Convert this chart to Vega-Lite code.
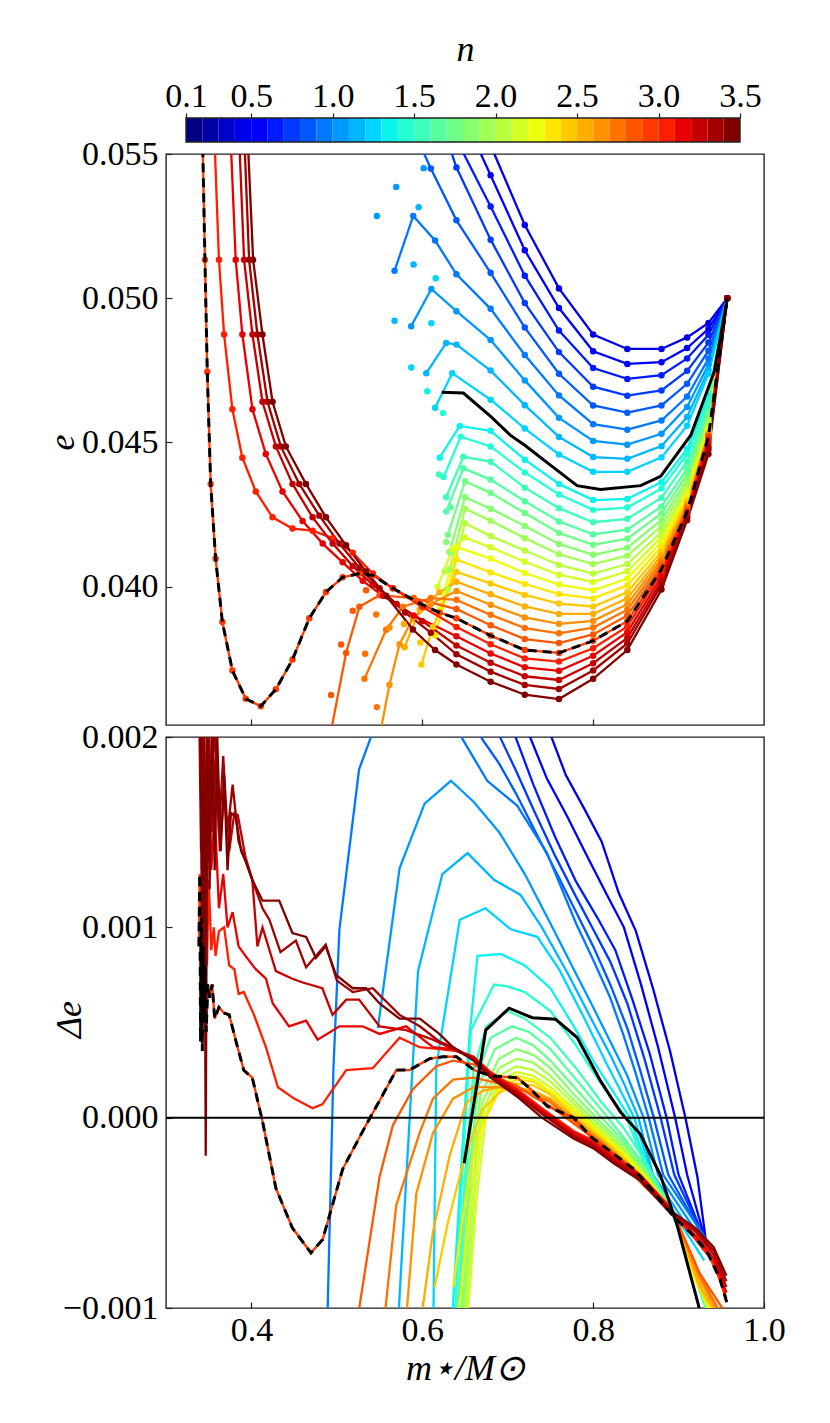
{
  "$schema": "https://vega.github.io/schema/vega-lite/v6.json",
  "autosize": {"type": "pad"},
  "padding": {"left": 43, "top": 31, "right": 20, "bottom": 5},
  "background": "white",
  "spacing": 12,
  "bounds": "flush",
  "config": {
    "font": "Liberation Serif",
    "view": {"stroke": "#222222", "strokeWidth": 1.4},
    "axis": {
      "labelFont": "Liberation Serif",
      "labelFontSize": 34,
      "labelColor": "black",
      "titleFont": "Liberation Serif",
      "titleFontSize": 36,
      "titleFontWeight": "normal",
      "titleFontStyle": "italic",
      "titleColor": "black",
      "grid": false,
      "domain": false,
      "tickColor": "#222222",
      "tickWidth": 1.2
    }
  },
  "datasets": {
    "bins": [
      {"lo": 0.1, "n": 0.2}, {"lo": 0.2, "n": 0.3}, {"lo": 0.3, "n": 0.4}, {"lo": 0.4, "n": 0.5},
      {"lo": 0.5, "n": 0.6}, {"lo": 0.6, "n": 0.7}, {"lo": 0.7, "n": 0.8}, {"lo": 0.8, "n": 0.9},
      {"lo": 0.9, "n": 1.0}, {"lo": 1.0, "n": 1.1}, {"lo": 1.1, "n": 1.2}, {"lo": 1.2, "n": 1.3},
      {"lo": 1.3, "n": 1.4}, {"lo": 1.4, "n": 1.5}, {"lo": 1.5, "n": 1.6}, {"lo": 1.6, "n": 1.7},
      {"lo": 1.7, "n": 1.8}, {"lo": 1.8, "n": 1.9}, {"lo": 1.9, "n": 2.0}, {"lo": 2.0, "n": 2.1},
      {"lo": 2.1, "n": 2.2}, {"lo": 2.2, "n": 2.3}, {"lo": 2.3, "n": 2.4}, {"lo": 2.4, "n": 2.5},
      {"lo": 2.5, "n": 2.6}, {"lo": 2.6, "n": 2.7}, {"lo": 2.7, "n": 2.8}, {"lo": 2.8, "n": 2.9},
      {"lo": 2.9, "n": 3.0}, {"lo": 3.0, "n": 3.1}, {"lo": 3.1, "n": 3.2}, {"lo": 3.2, "n": 3.3},
      {"lo": 3.3, "n": 3.4}, {"lo": 3.4, "n": 3.5}
    ],
    "frame": [{"lo": 0.1, "hi": 3.5}],
    "top": [
      {"n":0.5,"m":0.68,"e":0.0553},{"n":0.5,"m":0.72,"e":0.05254},{"n":0.5,"m":0.76,"e":0.05034},{"n":0.5,"m":0.8,"e":0.04874},{"n":0.5,"m":0.84,"e":0.04824},{"n":0.5,"m":0.88,"e":0.04824},{"n":0.5,"m":0.91,"e":0.04864},{"n":0.5,"m":0.935,"e":0.04914},{"n":0.5,"m":0.957,"e":0.05},
      {"n":0.6,"m":0.65,"e":0.0562},{"n":0.6,"m":0.68,"e":0.05426},{"n":0.6,"m":0.72,"e":0.05166},{"n":0.6,"m":0.76,"e":0.04966},{"n":0.6,"m":0.8,"e":0.04816},{"n":0.6,"m":0.84,"e":0.04772},{"n":0.6,"m":0.88,"e":0.04778},{"n":0.6,"m":0.91,"e":0.04827},{"n":0.6,"m":0.935,"e":0.04894},{"n":0.6,"m":0.957,"e":0.05},
      {"n":0.7,"m":0.64,"e":0.0555},{"n":0.7,"m":0.68,"e":0.05318},{"n":0.7,"m":0.72,"e":0.05078},{"n":0.7,"m":0.76,"e":0.04888},{"n":0.7,"m":0.8,"e":0.04758},{"n":0.7,"m":0.84,"e":0.0472},{"n":0.7,"m":0.88,"e":0.04733},{"n":0.7,"m":0.91,"e":0.04791},{"n":0.7,"m":0.935,"e":0.04873},{"n":0.7,"m":0.957,"e":0.05},
      {"n":0.8,"m":0.62,"e":0.0563},{"n":0.8,"m":0.64,"e":0.05453},{"n":0.8,"m":0.68,"e":0.05203},{"n":0.8,"m":0.72,"e":0.04983},{"n":0.8,"m":0.76,"e":0.04813},{"n":0.8,"m":0.8,"e":0.04693},{"n":0.8,"m":0.84,"e":0.04662},{"n":0.8,"m":0.88,"e":0.0468},{"n":0.8,"m":0.91,"e":0.04748},{"n":0.8,"m":0.935,"e":0.04846},{"n":0.8,"m":0.957,"e":0.05},
      {"n":0.9,"m":0.59,"e":0.0558},{"n":0.9,"m":0.61,"e":0.0545},{"n":0.9,"m":0.64,"e":0.0527},{"n":0.9,"m":0.68,"e":0.05088},{"n":0.9,"m":0.72,"e":0.04898},{"n":0.9,"m":0.76,"e":0.04738},{"n":0.9,"m":0.8,"e":0.04628},{"n":0.9,"m":0.84,"e":0.04603},{"n":0.9,"m":0.88,"e":0.04628},{"n":0.9,"m":0.91,"e":0.04703},{"n":0.9,"m":0.935,"e":0.04818},{"n":0.9,"m":0.957,"e":0.05},
      {"n":1.0,"m":0.5675,"e":0.05095},{"n":1.0,"m":0.5894,"e":0.05285},{"n":1.0,"m":0.615,"e":0.052},{"n":1.0,"m":0.64,"e":0.05083},{"n":1.0,"m":0.68,"e":0.04963},{"n":1.0,"m":0.72,"e":0.04803},{"n":1.0,"m":0.76,"e":0.04663},{"n":1.0,"m":0.8,"e":0.04563},{"n":1.0,"m":0.84,"e":0.04544},{"n":1.0,"m":0.88,"e":0.04576},{"n":1.0,"m":0.91,"e":0.04659},{"n":1.0,"m":0.935,"e":0.04791},{"n":1.0,"m":0.957,"e":0.05},
      {"n":1.1,"m":0.587,"e":0.04903},{"n":1.1,"m":0.6106,"e":0.05032},{"n":1.1,"m":0.64,"e":0.04955},{"n":1.1,"m":0.68,"e":0.04855},{"n":1.1,"m":0.72,"e":0.04715},{"n":1.1,"m":0.76,"e":0.04585},{"n":1.1,"m":0.8,"e":0.04505},{"n":1.1,"m":0.84,"e":0.04492},{"n":1.1,"m":0.88,"e":0.0453},{"n":1.1,"m":0.91,"e":0.04623},{"n":1.1,"m":0.935,"e":0.0477},{"n":1.1,"m":0.957,"e":0.05},
      {"n":1.2,"m":0.6047,"e":0.0474},{"n":1.2,"m":0.628,"e":0.04845},{"n":1.2,"m":0.64,"e":0.04839},{"n":1.2,"m":0.68,"e":0.04749},{"n":1.2,"m":0.72,"e":0.04629},{"n":1.2,"m":0.76,"e":0.04519},{"n":1.2,"m":0.8,"e":0.04449},{"n":1.2,"m":0.84,"e":0.04443},{"n":1.2,"m":0.88,"e":0.04487},{"n":1.2,"m":0.91,"e":0.04588},{"n":1.2,"m":0.935,"e":0.04752},{"n":1.2,"m":0.957,"e":0.05},
      {"n":1.3,"m":0.615,"e":0.0462},{"n":1.3,"m":0.635,"e":0.0474},{"n":1.3,"m":0.68,"e":0.04648},{"n":1.3,"m":0.72,"e":0.04548},{"n":1.3,"m":0.76,"e":0.04458},{"n":1.3,"m":0.8,"e":0.04398},{"n":1.3,"m":0.84,"e":0.04398},{"n":1.3,"m":0.88,"e":0.04448},{"n":1.3,"m":0.91,"e":0.04558},{"n":1.3,"m":0.935,"e":0.04738},{"n":1.3,"m":0.957,"e":0.05},
      {"n":1.4,"m":0.6204,"e":0.04447},{"n":1.4,"m":0.6438,"e":0.04557},{"n":1.4,"m":0.68,"e":0.0454},{"n":1.4,"m":0.72,"e":0.0444},{"n":1.4,"m":0.76,"e":0.04356},{"n":1.4,"m":0.8,"e":0.043},{"n":1.4,"m":0.84,"e":0.04304},{"n":1.4,"m":0.88,"e":0.04362},{"n":1.4,"m":0.91,"e":0.04477},{"n":1.4,"m":0.935,"e":0.04662},{"n":1.4,"m":0.957,"e":0.05},
      {"n":1.5,"m":0.625,"e":0.0438},{"n":1.5,"m":0.645,"e":0.0452},{"n":1.5,"m":0.68,"e":0.04486},{"n":1.5,"m":0.72,"e":0.04396},{"n":1.5,"m":0.76,"e":0.04319},{"n":1.5,"m":0.8,"e":0.04266},{"n":1.5,"m":0.84,"e":0.04274},{"n":1.5,"m":0.88,"e":0.0434},{"n":1.5,"m":0.91,"e":0.0446},{"n":1.5,"m":0.935,"e":0.0465},{"n":1.5,"m":0.957,"e":0.05},
      {"n":1.6,"m":0.628,"e":0.0431},{"n":1.6,"m":0.648,"e":0.0445},{"n":1.6,"m":0.68,"e":0.04433},{"n":1.6,"m":0.72,"e":0.04343},{"n":1.6,"m":0.76,"e":0.04272},{"n":1.6,"m":0.8,"e":0.04223},{"n":1.6,"m":0.84,"e":0.04235},{"n":1.6,"m":0.88,"e":0.04308},{"n":1.6,"m":0.91,"e":0.04434},{"n":1.6,"m":0.935,"e":0.04628},{"n":1.6,"m":0.957,"e":0.05},
      {"n":1.7,"m":0.628,"e":0.0426},{"n":1.7,"m":0.648,"e":0.0441},{"n":1.7,"m":0.68,"e":0.04371},{"n":1.7,"m":0.72,"e":0.04296},{"n":1.7,"m":0.76,"e":0.04226},{"n":1.7,"m":0.8,"e":0.04181},{"n":1.7,"m":0.84,"e":0.04197},{"n":1.7,"m":0.88,"e":0.04278},{"n":1.7,"m":0.91,"e":0.04409},{"n":1.7,"m":0.935,"e":0.04608},{"n":1.7,"m":0.957,"e":0.05},
      {"n":1.8,"m":0.63,"e":0.0418},{"n":1.8,"m":0.65,"e":0.04365},{"n":1.8,"m":0.68,"e":0.04325},{"n":1.8,"m":0.72,"e":0.04255},{"n":1.8,"m":0.76,"e":0.04186},{"n":1.8,"m":0.8,"e":0.04145},{"n":1.8,"m":0.84,"e":0.04166},{"n":1.8,"m":0.88,"e":0.04254},{"n":1.8,"m":0.91,"e":0.0439},{"n":1.8,"m":0.935,"e":0.04594},{"n":1.8,"m":0.957,"e":0.05},
      {"n":1.9,"m":0.632,"e":0.0412},{"n":1.9,"m":0.65,"e":0.0431},{"n":1.9,"m":0.68,"e":0.0427},{"n":1.9,"m":0.72,"e":0.0421},{"n":1.9,"m":0.76,"e":0.04148},{"n":1.9,"m":0.8,"e":0.0411},{"n":1.9,"m":0.84,"e":0.04135},{"n":1.9,"m":0.88,"e":0.04231},{"n":1.9,"m":0.91,"e":0.04372},{"n":1.9,"m":0.935,"e":0.04581},{"n":1.9,"m":0.957,"e":0.05},
      {"n":2.0,"m":0.632,"e":0.0406},{"n":2.0,"m":0.65,"e":0.0427},{"n":2.0,"m":0.68,"e":0.04228},{"n":2.0,"m":0.72,"e":0.04168},{"n":2.0,"m":0.76,"e":0.04112},{"n":2.0,"m":0.8,"e":0.04078},{"n":2.0,"m":0.84,"e":0.04107},{"n":2.0,"m":0.88,"e":0.0421},{"n":2.0,"m":0.91,"e":0.04357},{"n":2.0,"m":0.935,"e":0.0457},{"n":2.0,"m":0.957,"e":0.05},
      {"n":2.1,"m":0.63,"e":0.0399},{"n":2.1,"m":0.65,"e":0.0422},{"n":2.1,"m":0.68,"e":0.04175},{"n":2.1,"m":0.72,"e":0.04125},{"n":2.1,"m":0.76,"e":0.04075},{"n":2.1,"m":0.8,"e":0.04045},{"n":2.1,"m":0.84,"e":0.04078},{"n":2.1,"m":0.88,"e":0.04189},{"n":2.1,"m":0.91,"e":0.04341},{"n":2.1,"m":0.935,"e":0.04559},{"n":2.1,"m":0.957,"e":0.05},
      {"n":2.2,"m":0.618,"e":0.04},{"n":2.2,"m":0.635,"e":0.0413},{"n":2.2,"m":0.65,"e":0.0417},{"n":2.2,"m":0.68,"e":0.04136},{"n":2.2,"m":0.72,"e":0.04086},{"n":2.2,"m":0.76,"e":0.04041},{"n":2.2,"m":0.8,"e":0.04016},{"n":2.2,"m":0.84,"e":0.04053},{"n":2.2,"m":0.88,"e":0.04172},{"n":2.2,"m":0.91,"e":0.0433},{"n":2.2,"m":0.935,"e":0.04552},{"n":2.2,"m":0.957,"e":0.05},
      {"n":2.3,"m":0.62,"e":0.0392},{"n":2.3,"m":0.64,"e":0.04137},{"n":2.3,"m":0.68,"e":0.04097},{"n":2.3,"m":0.72,"e":0.04047},{"n":2.3,"m":0.76,"e":0.04007},{"n":2.3,"m":0.8,"e":0.03987},{"n":2.3,"m":0.84,"e":0.04028},{"n":2.3,"m":0.88,"e":0.04155},{"n":2.3,"m":0.91,"e":0.04318},{"n":2.3,"m":0.935,"e":0.04545},{"n":2.3,"m":0.957,"e":0.05},
      {"n":2.4,"m":0.615,"e":0.0383},{"n":2.4,"m":0.64,"e":0.04094},{"n":2.4,"m":0.68,"e":0.04049},{"n":2.4,"m":0.72,"e":0.04009},{"n":2.4,"m":0.76,"e":0.03974},{"n":2.4,"m":0.8,"e":0.03959},{"n":2.4,"m":0.84,"e":0.04004},{"n":2.4,"m":0.88,"e":0.04138},{"n":2.4,"m":0.91,"e":0.04307},{"n":2.4,"m":0.935,"e":0.04538},{"n":2.4,"m":0.957,"e":0.05},
      {"n":2.5,"m":0.599,"e":0.0373},{"n":2.5,"m":0.6125,"e":0.0386},{"n":2.5,"m":0.64,"e":0.04051},{"n":2.5,"m":0.68,"e":0.04011},{"n":2.5,"m":0.72,"e":0.03971},{"n":2.5,"m":0.76,"e":0.03941},{"n":2.5,"m":0.8,"e":0.03931},{"n":2.5,"m":0.84,"e":0.0398},{"n":2.5,"m":0.88,"e":0.04122},{"n":2.5,"m":0.91,"e":0.04296},{"n":2.5,"m":0.935,"e":0.04532},{"n":2.5,"m":0.957,"e":0.05},
      {"n":2.6,"m":0.5793,"e":0.0379},{"n":2.6,"m":0.5969,"e":0.0392},{"n":2.6,"m":0.62,"e":0.0398},{"n":2.6,"m":0.64,"e":0.04017},{"n":2.6,"m":0.68,"e":0.03973},{"n":2.6,"m":0.72,"e":0.03931},{"n":2.6,"m":0.76,"e":0.03905},{"n":2.6,"m":0.8,"e":0.03905},{"n":2.6,"m":0.84,"e":0.03959},{"n":2.6,"m":0.88,"e":0.04108},{"n":2.6,"m":0.91,"e":0.04287},{"n":2.6,"m":0.935,"e":0.04528},{"n":2.6,"m":0.957,"e":0.05},
      {"n":2.7,"m":0.55,"e":0.0348},{"n":2.7,"m":0.5616,"e":0.0366},{"n":2.7,"m":0.5734,"e":0.038},{"n":2.7,"m":0.589,"e":0.0389},{"n":2.7,"m":0.61,"e":0.0394},{"n":2.7,"m":0.64,"e":0.03985},{"n":2.7,"m":0.68,"e":0.03937},{"n":2.7,"m":0.72,"e":0.03893},{"n":2.7,"m":0.76,"e":0.03871},{"n":2.7,"m":0.8,"e":0.03881},{"n":2.7,"m":0.84,"e":0.03939},{"n":2.7,"m":0.88,"e":0.04096},{"n":2.7,"m":0.91,"e":0.0428},{"n":2.7,"m":0.935,"e":0.04526},{"n":2.7,"m":0.957,"e":0.05},
      {"n":2.8,"m":0.5323,"e":0.0368},{"n":2.8,"m":0.5577,"e":0.0385},{"n":2.8,"m":0.5773,"e":0.0393},{"n":2.8,"m":0.61,"e":0.0396},{"n":2.8,"m":0.64,"e":0.03954},{"n":2.8,"m":0.68,"e":0.03902},{"n":2.8,"m":0.72,"e":0.03856},{"n":2.8,"m":0.76,"e":0.03838},{"n":2.8,"m":0.8,"e":0.03858},{"n":2.8,"m":0.84,"e":0.0392},{"n":2.8,"m":0.88,"e":0.04084},{"n":2.8,"m":0.91,"e":0.04274},{"n":2.8,"m":0.935,"e":0.04524},{"n":2.8,"m":0.957,"e":0.05},
      {"n":2.9,"m":0.49,"e":0.0345},{"n":2.9,"m":0.5108,"e":0.0377},{"n":2.9,"m":0.5264,"e":0.0393},{"n":2.9,"m":0.55,"e":0.0397},{"n":2.9,"m":0.59,"e":0.0396},{"n":2.9,"m":0.64,"e":0.03922},{"n":2.9,"m":0.68,"e":0.03866},{"n":2.9,"m":0.72,"e":0.03818},{"n":2.9,"m":0.76,"e":0.03804},{"n":2.9,"m":0.8,"e":0.03834},{"n":2.9,"m":0.84,"e":0.039},{"n":2.9,"m":0.88,"e":0.04072},{"n":2.9,"m":0.91,"e":0.04267},{"n":2.9,"m":0.935,"e":0.04522},{"n":2.9,"m":0.957,"e":0.05},
      {"n":3.0,"m":0.343,"e":0.0552},{"n":3.0,"m":0.3456,"e":0.05133},{"n":3.0,"m":0.3483,"e":0.04745},{"n":3.0,"m":0.3523,"e":0.04356},{"n":3.0,"m":0.3581,"e":0.04097},{"n":3.0,"m":0.366,"e":0.03877},{"n":3.0,"m":0.3777,"e":0.03709},{"n":3.0,"m":0.3933,"e":0.03611},{"n":3.0,"m":0.411,"e":0.03585},{"n":3.0,"m":0.4286,"e":0.03644},{"n":3.0,"m":0.4481,"e":0.03747},{"n":3.0,"m":0.4677,"e":0.0389},{"n":3.0,"m":0.4873,"e":0.03981},{"n":3.0,"m":0.5068,"e":0.04032},{"n":3.0,"m":0.5264,"e":0.04045},{"n":3.0,"m":0.5421,"e":0.04039},{"n":3.0,"m":0.5656,"e":0.03994},{"n":3.0,"m":0.5969,"e":0.03942},{"n":3.0,"m":0.62,"e":0.0391},{"n":3.0,"m":0.64,"e":0.0389},{"n":3.0,"m":0.68,"e":0.0383},{"n":3.0,"m":0.72,"e":0.0378},{"n":3.0,"m":0.76,"e":0.0377},{"n":3.0,"m":0.8,"e":0.03812},{"n":3.0,"m":0.84,"e":0.0388},{"n":3.0,"m":0.88,"e":0.0406},{"n":3.0,"m":0.91,"e":0.0426},{"n":3.0,"m":0.935,"e":0.0452},{"n":3.0,"m":0.957,"e":0.05},
      {"n":3.1,"m":0.357,"e":0.0553},{"n":3.1,"m":0.362,"e":0.05133},{"n":3.1,"m":0.368,"e":0.04874},{"n":3.1,"m":0.3777,"e":0.04615},{"n":3.1,"m":0.3894,"e":0.04447},{"n":3.1,"m":0.4051,"e":0.0433},{"n":3.1,"m":0.4247,"e":0.0424},{"n":3.1,"m":0.4481,"e":0.04201},{"n":3.1,"m":0.4716,"e":0.04194},{"n":3.1,"m":0.4951,"e":0.04168},{"n":3.1,"m":0.5186,"e":0.04117},{"n":3.1,"m":0.5421,"e":0.04045},{"n":3.1,"m":0.5656,"e":0.03994},{"n":3.1,"m":0.6,"e":0.0393},{"n":3.1,"m":0.64,"e":0.0386},{"n":3.1,"m":0.68,"e":0.038},{"n":3.1,"m":0.72,"e":0.03751},{"n":3.1,"m":0.76,"e":0.0374},{"n":3.1,"m":0.8,"e":0.03786},{"n":3.1,"m":0.84,"e":0.03862},{"n":3.1,"m":0.88,"e":0.04048},{"n":3.1,"m":0.91,"e":0.04256},{"n":3.1,"m":0.935,"e":0.0451},{"n":3.1,"m":0.957,"e":0.05},
      {"n":3.2,"m":0.376,"e":0.0553},{"n":3.2,"m":0.3816,"e":0.05133},{"n":3.2,"m":0.3894,"e":0.04874},{"n":3.2,"m":0.4012,"e":0.04615},{"n":3.2,"m":0.4168,"e":0.0446},{"n":3.2,"m":0.4364,"e":0.0433},{"n":3.2,"m":0.4599,"e":0.04227},{"n":3.2,"m":0.4834,"e":0.04149},{"n":3.2,"m":0.5068,"e":0.04084},{"n":3.2,"m":0.5303,"e":0.0402},{"n":3.2,"m":0.5538,"e":0.03968},{"n":3.2,"m":0.59,"e":0.039},{"n":3.2,"m":0.64,"e":0.03828},{"n":3.2,"m":0.68,"e":0.03768},{"n":3.2,"m":0.72,"e":0.0372},{"n":3.2,"m":0.76,"e":0.03708},{"n":3.2,"m":0.8,"e":0.0376},{"n":3.2,"m":0.84,"e":0.03842},{"n":3.2,"m":0.88,"e":0.04034},{"n":3.2,"m":0.91,"e":0.0425},{"n":3.2,"m":0.935,"e":0.04498},{"n":3.2,"m":0.957,"e":0.05},
      {"n":3.3,"m":0.386,"e":0.0553},{"n":3.3,"m":0.3914,"e":0.05133},{"n":3.3,"m":0.4012,"e":0.04874},{"n":3.3,"m":0.4129,"e":0.04641},{"n":3.3,"m":0.4286,"e":0.04486},{"n":3.3,"m":0.4481,"e":0.04356},{"n":3.3,"m":0.4716,"e":0.0424},{"n":3.3,"m":0.4951,"e":0.04149},{"n":3.3,"m":0.5186,"e":0.04071},{"n":3.3,"m":0.5421,"e":0.04006},{"n":3.3,"m":0.57,"e":0.0394},{"n":3.3,"m":0.6,"e":0.0388},{"n":3.3,"m":0.64,"e":0.03796},{"n":3.3,"m":0.68,"e":0.03736},{"n":3.3,"m":0.72,"e":0.03689},{"n":3.3,"m":0.76,"e":0.03676},{"n":3.3,"m":0.8,"e":0.03734},{"n":3.3,"m":0.84,"e":0.03822},{"n":3.3,"m":0.88,"e":0.0402},{"n":3.3,"m":0.91,"e":0.04244},{"n":3.3,"m":0.935,"e":0.04486},{"n":3.3,"m":0.957,"e":0.05},
      {"n":3.4,"m":0.392,"e":0.0553},{"n":3.4,"m":0.3973,"e":0.05133},{"n":3.4,"m":0.407,"e":0.04874},{"n":3.4,"m":0.4188,"e":0.04641},{"n":3.4,"m":0.4344,"e":0.04486},{"n":3.4,"m":0.456,"e":0.04356},{"n":3.4,"m":0.4795,"e":0.04246},{"n":3.4,"m":0.503,"e":0.04149},{"n":3.4,"m":0.5264,"e":0.04065},{"n":3.4,"m":0.55,"e":0.03994},{"n":3.4,"m":0.58,"e":0.0391},{"n":3.4,"m":0.61,"e":0.0384},{"n":3.4,"m":0.64,"e":0.03765},{"n":3.4,"m":0.68,"e":0.03705},{"n":3.4,"m":0.72,"e":0.03659},{"n":3.4,"m":0.76,"e":0.03645},{"n":3.4,"m":0.8,"e":0.03709},{"n":3.4,"m":0.84,"e":0.03803},{"n":3.4,"m":0.88,"e":0.04007},{"n":3.4,"m":0.91,"e":0.04239},{"n":3.4,"m":0.935,"e":0.04475},{"n":3.4,"m":0.957,"e":0.05},
      {"n":3.5,"m":0.396,"e":0.0553},{"n":3.5,"m":0.402,"e":0.05133},{"n":3.5,"m":0.4129,"e":0.04874},{"n":3.5,"m":0.4247,"e":0.04641},{"n":3.5,"m":0.4403,"e":0.04486},{"n":3.5,"m":0.4638,"e":0.04356},{"n":3.5,"m":0.4873,"e":0.0424},{"n":3.5,"m":0.5108,"e":0.04143},{"n":3.5,"m":0.5342,"e":0.04052},{"n":3.5,"m":0.5577,"e":0.03968},{"n":3.5,"m":0.589,"e":0.03851},{"n":3.5,"m":0.615,"e":0.0378},{"n":3.5,"m":0.64,"e":0.0373},{"n":3.5,"m":0.68,"e":0.0367},{"n":3.5,"m":0.72,"e":0.03625},{"n":3.5,"m":0.76,"e":0.0361},{"n":3.5,"m":0.8,"e":0.0368},{"n":3.5,"m":0.84,"e":0.0378},{"n":3.5,"m":0.88,"e":0.0399},{"n":3.5,"m":0.91,"e":0.0423},{"n":3.5,"m":0.935,"e":0.0446},{"n":3.5,"m":0.957,"e":0.05}
    ],
    "dots": [
      {"n":1.1,"m":0.6016,"e":0.05451},{"n":1.1,"m":0.5695,"e":0.05386},{"n":1.1,"m":0.5468,"e":0.05285},
      {"n":1.2,"m":0.5957,"e":0.05315},{"n":1.2,"m":0.5898,"e":0.05117},{"n":1.2,"m":0.5675,"e":0.04922},
      {"n":1.3,"m":0.6157,"e":0.05069},{"n":1.3,"m":0.6106,"e":0.04913},{"n":1.3,"m":0.5871,"e":0.0476},
      {"n":1.4,"m":0.6059,"e":0.04677},{"n":1.5,"m":0.6243,"e":0.04602},{"n":1.6,"m":0.6196,"e":0.04389},
      {"n":1.7,"m":0.6329,"e":0.04275},{"n":1.9,"m":0.6282,"e":0.04155},{"n":2.1,"m":0.6262,"e":0.04052},
      {"n":2.9,"m":0.4932,"e":0.03624},{"n":2.9,"m":0.5049,"e":0.03799},{"n":2.9,"m":0.5186,"e":0.03916},{"n":2.9,"m":0.5342,"e":0.03987},
      {"n":2.8,"m":0.5468,"e":0.03582},{"n":2.8,"m":0.5331,"e":0.03767},{"n":2.8,"m":0.546,"e":0.03903},
      {"n":2.7,"m":0.5616,"e":0.03858},{"n":2.6,"m":0.5785,"e":0.0387},{"n":2.5,"m":0.5977,"e":0.03806}
    ],
    "blackTop": [
      {"m":0.6227,"e":0.04674},{"m":0.6481,"e":0.04671},{"m":0.68,"e":0.0459},{"m":0.703,"e":0.04525},{"m":0.72,"e":0.0449},{"m":0.75,"e":0.04421},{"m":0.7812,"e":0.0435},{"m":0.8086,"e":0.04337},{"m":0.8556,"e":0.0435},{"m":0.879,"e":0.04382},{"m":0.9143,"e":0.04525},{"m":0.9417,"e":0.04745},{"m":0.957,"e":0.05}
    ],
    "bot": [
      {"n":0.5,"m":0.74,"d":0.00215},{"n":0.5,"m":0.752,"d":0.00199},{"n":0.5,"m":0.768,"d":0.0018},{"n":0.5,"m":0.79,"d":0.00162},{"n":0.5,"m":0.81,"d":0.00145},{"n":0.5,"m":0.83,"d":0.00118},{"n":0.5,"m":0.85,"d":0.00098},{"n":0.5,"m":0.87,"d":0.00068},{"n":0.5,"m":0.89,"d":0.00035},{"n":0.5,"m":0.908,"d":0},{"n":0.5,"m":0.922,"d":-0.00031},{"n":0.5,"m":0.933,"d":-0.00068},
      {"n":0.6,"m":0.715,"d":0.00215},{"n":0.6,"m":0.727,"d":0.00199},{"n":0.6,"m":0.746,"d":0.00178},{"n":0.6,"m":0.77,"d":0.00158},{"n":0.6,"m":0.79,"d":0.0014},{"n":0.6,"m":0.815,"d":0.00118},{"n":0.6,"m":0.836,"d":0.001},{"n":0.6,"m":0.856,"d":0.0007},{"n":0.6,"m":0.876,"d":0.00037},{"n":0.6,"m":0.896,"d":0},{"n":0.6,"m":0.91,"d":-0.0003},{"n":0.6,"m":0.933,"d":-0.00067},
      {"n":0.7,"m":0.7,"d":0.00212},{"n":0.7,"m":0.71,"d":0.00199},{"n":0.7,"m":0.73,"d":0.00175},{"n":0.7,"m":0.755,"d":0.00148},{"n":0.7,"m":0.78,"d":0.00124},{"n":0.7,"m":0.805,"d":0.00105},{"n":0.7,"m":0.826,"d":0.00088},{"n":0.7,"m":0.846,"d":0.00062},{"n":0.7,"m":0.866,"d":0.00034},{"n":0.7,"m":0.886,"d":0},{"n":0.7,"m":0.9,"d":-0.0003},{"n":0.7,"m":0.932,"d":-0.00066},
      {"n":0.8,"m":0.68,"d":0.00212},{"n":0.8,"m":0.692,"d":0.00199},{"n":0.8,"m":0.71,"d":0.00182},{"n":0.8,"m":0.73,"d":0.00162},{"n":0.8,"m":0.755,"d":0.00138},{"n":0.8,"m":0.78,"d":0.00116},{"n":0.8,"m":0.8,"d":0.00099},{"n":0.8,"m":0.82,"d":0.00082},{"n":0.8,"m":0.84,"d":0.0006},{"n":0.8,"m":0.86,"d":0.00031},{"n":0.8,"m":0.879,"d":0},{"n":0.8,"m":0.895,"d":-0.0003},{"n":0.8,"m":0.932,"d":-0.00065},
      {"n":0.9,"m":0.66,"d":0.0021},{"n":0.9,"m":0.67,"d":0.00199},{"n":0.9,"m":0.69,"d":0.00186},{"n":0.9,"m":0.71,"d":0.0017},{"n":0.9,"m":0.735,"d":0.00148},{"n":0.9,"m":0.76,"d":0.00126},{"n":0.9,"m":0.78,"d":0.00108},{"n":0.9,"m":0.8,"d":0.0009},{"n":0.9,"m":0.82,"d":0.0007},{"n":0.9,"m":0.84,"d":0.00047},{"n":0.9,"m":0.855,"d":0.00025},{"n":0.9,"m":0.871,"d":0},{"n":0.9,"m":0.888,"d":-0.0003},{"n":0.9,"m":0.931,"d":-0.00064},
      {"n":1.0,"m":0.489,"d":-0.00105},{"n":1.0,"m":0.496,"d":0.00026},{"n":1.0,"m":0.503,"d":0.00099},{"n":1.0,"m":0.526,"d":0.00183},{"n":1.0,"m":0.544,"d":0.00205},{"n":1.0,"m":0.59,"d":0.0025},{"n":1.0,"m":0.63,"d":0.0022},{"n":1.0,"m":0.647,"d":0.00199},{"n":1.0,"m":0.676,"d":0.00177},{"n":1.0,"m":0.711,"d":0.00164},{"n":1.0,"m":0.746,"d":0.00139},{"n":1.0,"m":0.78,"d":0.00102},{"n":1.0,"m":0.8,"d":0.00083},{"n":1.0,"m":0.82,"d":0.00063},{"n":1.0,"m":0.835,"d":0.00044},{"n":1.0,"m":0.85,"d":0.00023},{"n":1.0,"m":0.865,"d":0},{"n":1.0,"m":0.882,"d":-0.0003},{"n":1.0,"m":0.931,"d":-0.00063},
      {"n":1.1,"m":0.548,"d":0.00047},{"n":1.1,"m":0.5734,"d":0.00131},{"n":1.1,"m":0.6027,"d":0.00165},{"n":1.1,"m":0.6335,"d":0.00177},{"n":1.1,"m":0.66,"d":0.00166},{"n":1.1,"m":0.69,"d":0.0015},{"n":1.1,"m":0.72,"d":0.00128},{"n":1.1,"m":0.75,"d":0.00102},{"n":1.1,"m":0.775,"d":0.0008},{"n":1.1,"m":0.8,"d":0.00058},{"n":1.1,"m":0.82,"d":0.0004},{"n":1.1,"m":0.84,"d":0.00022},{"n":1.1,"m":0.859,"d":0},{"n":1.1,"m":0.876,"d":-0.0003},{"n":1.1,"m":0.93,"d":-0.00066},
      {"n":1.2,"m":0.572,"d":-0.00105},{"n":1.2,"m":0.595,"d":0.00077},{"n":1.2,"m":0.6235,"d":0.00128},{"n":1.2,"m":0.653,"d":0.00139},{"n":1.2,"m":0.684,"d":0.00125},{"n":1.2,"m":0.715,"d":0.00117},{"n":1.2,"m":0.74,"d":0.001},{"n":1.2,"m":0.77,"d":0.00076},{"n":1.2,"m":0.8,"d":0.0005},{"n":1.2,"m":0.82,"d":0.00033},{"n":1.2,"m":0.836,"d":0.00018},{"n":1.2,"m":0.853,"d":0},{"n":1.2,"m":0.87,"d":-0.0003},{"n":1.2,"m":0.93,"d":-0.0007},
      {"n":1.3,"m":0.613,"d":-0.00105},{"n":1.3,"m":0.6164,"d":0.00027},{"n":1.3,"m":0.6438,"d":0.00104},{"n":1.3,"m":0.674,"d":0.0011},{"n":1.3,"m":0.7035,"d":0.00099},{"n":1.3,"m":0.7346,"d":0.00095},{"n":1.3,"m":0.76,"d":0.00078},{"n":1.3,"m":0.79,"d":0.00052},{"n":1.3,"m":0.815,"d":0.00029},{"n":1.3,"m":0.83,"d":0.00016},{"n":1.3,"m":0.848,"d":0},{"n":1.3,"m":0.87,"d":-0.00032},{"n":1.3,"m":0.9,"d":-0.00054},{"n":1.3,"m":0.93,"d":-0.00075},
      {"n":1.4,"m":0.635,"d":-0.00105},{"n":1.4,"m":0.645,"d":-0.0003},{"n":1.4,"m":0.655,"d":0.00042},{"n":1.4,"m":0.6646,"d":0.00085},{"n":1.4,"m":0.6918,"d":0.00086},{"n":1.4,"m":0.72,"d":0.0008},{"n":1.4,"m":0.75,"d":0.00068},{"n":1.4,"m":0.78,"d":0.00046},{"n":1.4,"m":0.8,"d":0.0003},{"n":1.4,"m":0.82,"d":0.00016},{"n":1.4,"m":0.843,"d":0},{"n":1.4,"m":0.865,"d":-0.00028},{"n":1.4,"m":0.894,"d":-0.00052},{"n":1.4,"m":0.93,"d":-0.00095},
      {"n":1.5,"m":0.638,"d":-0.00105},{"n":1.5,"m":0.648,"d":-0.0002},{"n":1.5,"m":0.657,"d":0.00046},{"n":1.5,"m":0.684,"d":0.0007},{"n":1.5,"m":0.7,"d":0.00069},{"n":1.5,"m":0.72,"d":0.00066},{"n":1.5,"m":0.75,"d":0.00056},{"n":1.5,"m":0.78,"d":0.00038},{"n":1.5,"m":0.8,"d":0.00024},{"n":1.5,"m":0.82,"d":0.00011},{"n":1.5,"m":0.839,"d":0},{"n":1.5,"m":0.865,"d":-0.0003},{"n":1.5,"m":0.894,"d":-0.0005},{"n":1.5,"m":0.93,"d":-0.00098},
      {"n":1.6,"m":0.641,"d":-0.00105},{"n":1.6,"m":0.65,"d":-0.0003},{"n":1.6,"m":0.66,"d":0.00025},{"n":1.6,"m":0.675,"d":0.00048},{"n":1.6,"m":0.7,"d":0.00056},{"n":1.6,"m":0.72,"d":0.00052},{"n":1.6,"m":0.75,"d":0.00042},{"n":1.6,"m":0.78,"d":0.00026},{"n":1.6,"m":0.81,"d":0.00008},{"n":1.6,"m":0.835,"d":-0.00005},{"n":1.6,"m":0.86,"d":-0.00022},{"n":1.6,"m":0.894,"d":-0.0005},{"n":1.6,"m":0.915,"d":-0.00075},{"n":1.6,"m":0.935,"d":-0.00105},
      {"n":1.7,"m":0.643,"d":-0.00105},{"n":1.7,"m":0.652,"d":-0.0003},{"n":1.7,"m":0.662,"d":0.0002},{"n":1.7,"m":0.68,"d":0.00042},{"n":1.7,"m":0.705,"d":0.00048},{"n":1.7,"m":0.725,"d":0.00045},{"n":1.7,"m":0.75,"d":0.00036},{"n":1.7,"m":0.78,"d":0.0002},{"n":1.7,"m":0.81,"d":0.00004},{"n":1.7,"m":0.835,"d":-0.0001},{"n":1.7,"m":0.86,"d":-0.00025},{"n":1.7,"m":0.894,"d":-0.0005},{"n":1.7,"m":0.915,"d":-0.00076},{"n":1.7,"m":0.935,"d":-0.00105},
      {"n":1.8,"m":0.645,"d":-0.00105},{"n":1.8,"m":0.655,"d":-0.0003},{"n":1.8,"m":0.665,"d":0.00016},{"n":1.8,"m":0.685,"d":0.00036},{"n":1.8,"m":0.71,"d":0.00042},{"n":1.8,"m":0.73,"d":0.00038},{"n":1.8,"m":0.75,"d":0.0003},{"n":1.8,"m":0.78,"d":0.00015},{"n":1.8,"m":0.81,"d":0},{"n":1.8,"m":0.835,"d":-0.00012},{"n":1.8,"m":0.86,"d":-0.00027},{"n":1.8,"m":0.894,"d":-0.0005},{"n":1.8,"m":0.917,"d":-0.00078},{"n":1.8,"m":0.936,"d":-0.00105},
      {"n":1.9,"m":0.647,"d":-0.00105},{"n":1.9,"m":0.657,"d":-0.0003},{"n":1.9,"m":0.668,"d":0.00012},{"n":1.9,"m":0.69,"d":0.00031},{"n":1.9,"m":0.71,"d":0.00036},{"n":1.9,"m":0.73,"d":0.00033},{"n":1.9,"m":0.75,"d":0.00026},{"n":1.9,"m":0.78,"d":0.00011},{"n":1.9,"m":0.81,"d":-0.00003},{"n":1.9,"m":0.835,"d":-0.00014},{"n":1.9,"m":0.86,"d":-0.00028},{"n":1.9,"m":0.894,"d":-0.0005},{"n":1.9,"m":0.918,"d":-0.0008},{"n":1.9,"m":0.937,"d":-0.00105},
      {"n":2.0,"m":0.649,"d":-0.00105},{"n":2.0,"m":0.659,"d":-0.00035},{"n":2.0,"m":0.67,"d":0.00008},{"n":2.0,"m":0.69,"d":0.00026},{"n":2.0,"m":0.71,"d":0.00031},{"n":2.0,"m":0.73,"d":0.00029},{"n":2.0,"m":0.75,"d":0.00022},{"n":2.0,"m":0.78,"d":0.00008},{"n":2.0,"m":0.81,"d":-0.00005},{"n":2.0,"m":0.835,"d":-0.00016},{"n":2.0,"m":0.86,"d":-0.00029},{"n":2.0,"m":0.894,"d":-0.0005},{"n":2.0,"m":0.92,"d":-0.00082},{"n":2.0,"m":0.938,"d":-0.00105},
      {"n":2.1,"m":0.651,"d":-0.00105},{"n":2.1,"m":0.661,"d":-0.0004},{"n":2.1,"m":0.672,"d":0.00005},{"n":2.1,"m":0.69,"d":0.00022},{"n":2.1,"m":0.71,"d":0.00027},{"n":2.1,"m":0.73,"d":0.00025},{"n":2.1,"m":0.75,"d":0.00019},{"n":2.1,"m":0.78,"d":0.00006},{"n":2.1,"m":0.81,"d":-0.00007},{"n":2.1,"m":0.835,"d":-0.00017},{"n":2.1,"m":0.86,"d":-0.0003},{"n":2.1,"m":0.894,"d":-0.0005},{"n":2.1,"m":0.92,"d":-0.00083},{"n":2.1,"m":0.94,"d":-0.00105},
      {"n":2.2,"m":0.653,"d":-0.00105},{"n":2.2,"m":0.663,"d":-0.00045},{"n":2.2,"m":0.675,"d":0.00003},{"n":2.2,"m":0.69,"d":0.00019},{"n":2.2,"m":0.71,"d":0.00024},{"n":2.2,"m":0.73,"d":0.00022},{"n":2.2,"m":0.75,"d":0.00016},{"n":2.2,"m":0.78,"d":0.00004},{"n":2.2,"m":0.81,"d":-0.00008},{"n":2.2,"m":0.835,"d":-0.00018},{"n":2.2,"m":0.86,"d":-0.0003},{"n":2.2,"m":0.894,"d":-0.0005},{"n":2.2,"m":0.92,"d":-0.00085},{"n":2.2,"m":0.94,"d":-0.00105},
      {"n":2.3,"m":0.642,"d":-0.00105},{"n":2.3,"m":0.655,"d":-0.0005},{"n":2.3,"m":0.67,"d":-0.00005},{"n":2.3,"m":0.69,"d":0.00016},{"n":2.3,"m":0.71,"d":0.00022},{"n":2.3,"m":0.73,"d":0.0002},{"n":2.3,"m":0.75,"d":0.00014},{"n":2.3,"m":0.78,"d":0.00003},{"n":2.3,"m":0.81,"d":-0.00009},{"n":2.3,"m":0.835,"d":-0.00019},{"n":2.3,"m":0.86,"d":-0.00031},{"n":2.3,"m":0.894,"d":-0.0005},{"n":2.3,"m":0.92,"d":-0.00086},{"n":2.3,"m":0.942,"d":-0.00105},
      {"n":2.4,"m":0.636,"d":-0.00089},{"n":2.4,"m":0.65,"d":-0.00045},{"n":2.4,"m":0.665,"d":-0.00008},{"n":2.4,"m":0.69,"d":0.00014},{"n":2.4,"m":0.71,"d":0.0002},{"n":2.4,"m":0.73,"d":0.00019},{"n":2.4,"m":0.75,"d":0.00013},{"n":2.4,"m":0.78,"d":0.00002},{"n":2.4,"m":0.81,"d":-0.0001},{"n":2.4,"m":0.835,"d":-0.0002},{"n":2.4,"m":0.86,"d":-0.00032},{"n":2.4,"m":0.894,"d":-0.0005},{"n":2.4,"m":0.925,"d":-0.0009},{"n":2.4,"m":0.944,"d":-0.00105},
      {"n":2.5,"m":0.6145,"d":-0.00089},{"n":2.5,"m":0.63,"d":-0.00055},{"n":2.5,"m":0.65,"d":-0.0002},{"n":2.5,"m":0.67,"d":0.00004},{"n":2.5,"m":0.69,"d":0.00013},{"n":2.5,"m":0.71,"d":0.00018},{"n":2.5,"m":0.73,"d":0.00017},{"n":2.5,"m":0.75,"d":0.00012},{"n":2.5,"m":0.78,"d":0},{"n":2.5,"m":0.81,"d":-0.00011},{"n":2.5,"m":0.835,"d":-0.00021},{"n":2.5,"m":0.86,"d":-0.00033},{"n":2.5,"m":0.894,"d":-0.0005},{"n":2.5,"m":0.925,"d":-0.0009},{"n":2.5,"m":0.946,"d":-0.00105},
      {"n":2.6,"m":0.599,"d":-0.00105},{"n":2.6,"m":0.6125,"d":-0.0006},{"n":2.6,"m":0.632,"d":-0.0002},{"n":2.6,"m":0.6517,"d":0.00008},{"n":2.6,"m":0.67,"d":0.00014},{"n":2.6,"m":0.69,"d":0.00016},{"n":2.6,"m":0.71,"d":0.00016},{"n":2.6,"m":0.73,"d":0.00014},{"n":2.6,"m":0.75,"d":0.0001},{"n":2.6,"m":0.78,"d":-0.00001},{"n":2.6,"m":0.81,"d":-0.00012},{"n":2.6,"m":0.835,"d":-0.00022},{"n":2.6,"m":0.86,"d":-0.00034},{"n":2.6,"m":0.894,"d":-0.0005},{"n":2.6,"m":0.925,"d":-0.00088},{"n":2.6,"m":0.948,"d":-0.00105},
      {"n":2.7,"m":0.5812,"d":-0.00105},{"n":2.7,"m":0.593,"d":-0.0004},{"n":2.7,"m":0.6125,"d":-0.00008},{"n":2.7,"m":0.636,"d":0.0001},{"n":2.7,"m":0.66,"d":0.00016},{"n":2.7,"m":0.69,"d":0.00016},{"n":2.7,"m":0.71,"d":0.00015},{"n":2.7,"m":0.73,"d":0.00013},{"n":2.7,"m":0.75,"d":0.00009},{"n":2.7,"m":0.78,"d":-0.00002},{"n":2.7,"m":0.81,"d":-0.00013},{"n":2.7,"m":0.835,"d":-0.00023},{"n":2.7,"m":0.86,"d":-0.00035},{"n":2.7,"m":0.894,"d":-0.0005},{"n":2.7,"m":0.925,"d":-0.00085},{"n":2.7,"m":0.95,"d":-0.00105},
      {"n":2.8,"m":0.5558,"d":-0.00105},{"n":2.8,"m":0.5695,"d":-0.00046},{"n":2.8,"m":0.5969,"d":-0.00008},{"n":2.8,"m":0.6125,"d":0.0001},{"n":2.8,"m":0.636,"d":0.0002},{"n":2.8,"m":0.66,"d":0.00021},{"n":2.8,"m":0.69,"d":0.00018},{"n":2.8,"m":0.71,"d":0.00016},{"n":2.8,"m":0.73,"d":0.00012},{"n":2.8,"m":0.75,"d":0.00008},{"n":2.8,"m":0.78,"d":-0.00003},{"n":2.8,"m":0.81,"d":-0.00013},{"n":2.8,"m":0.835,"d":-0.00023},{"n":2.8,"m":0.86,"d":-0.00036},{"n":2.8,"m":0.894,"d":-0.0005},{"n":2.8,"m":0.925,"d":-0.00083},{"n":2.8,"m":0.952,"d":-0.00105},
      {"n":2.9,"m":0.5245,"d":-0.00105},{"n":2.9,"m":0.55,"d":-0.00031},{"n":2.9,"m":0.5656,"d":-0.00004},{"n":2.9,"m":0.589,"d":0.00015},{"n":2.9,"m":0.6164,"d":0.00027},{"n":2.9,"m":0.636,"d":0.0003},{"n":2.9,"m":0.66,"d":0.00028},{"n":2.9,"m":0.68,"d":0.00022},{"n":2.9,"m":0.71,"d":0.00017},{"n":2.9,"m":0.73,"d":0.00011},{"n":2.9,"m":0.75,"d":0.00006},{"n":2.9,"m":0.78,"d":-0.00004},{"n":2.9,"m":0.81,"d":-0.00014},{"n":2.9,"m":0.835,"d":-0.00024},{"n":2.9,"m":0.86,"d":-0.00036},{"n":2.9,"m":0.894,"d":-0.0005},{"n":2.9,"m":0.925,"d":-0.00082},{"n":2.9,"m":0.954,"d":-0.00102},
      {"n":3.0,"m":0.3385,"d":0.0009},{"n":3.0,"m":0.3395,"d":0.00128},{"n":3.0,"m":0.3405,"d":0.0004},{"n":3.0,"m":0.3415,"d":0.00105},{"n":3.0,"m":0.3425,"d":0.00035},{"n":3.0,"m":0.3435,"d":0.0009},{"n":3.0,"m":0.3445,"d":0.0005},{"n":3.0,"m":0.3455,"d":0.0008},{"n":3.0,"m":0.347,"d":0.00045},{"n":3.0,"m":0.349,"d":0.0007},{"n":3.0,"m":0.351,"d":0.00063},{"n":3.0,"m":0.354,"d":0.0007},{"n":3.0,"m":0.357,"d":0.00052},{"n":3.0,"m":0.362,"d":0.00058},{"n":3.0,"m":0.368,"d":0.00055},{"n":3.0,"m":0.374,"d":0.00054},{"n":3.0,"m":0.382,"d":0.0004},{"n":3.0,"m":0.391,"d":0.00025},{"n":3.0,"m":0.401,"d":0.00021},{"n":3.0,"m":0.413,"d":-0.00002},{"n":3.0,"m":0.4286,"d":-0.00037},{"n":3.0,"m":0.448,"d":-0.00058},{"n":3.0,"m":0.4697,"d":-0.00071},{"n":3.0,"m":0.4834,"d":-0.00064},{"n":3.0,"m":0.5068,"d":-0.00027},{"n":3.0,"m":0.534,"d":-0.00004},{"n":3.0,"m":0.5538,"d":0.00012},{"n":3.0,"m":0.5695,"d":0.00025},{"n":3.0,"m":0.585,"d":0.00025},{"n":3.0,"m":0.6086,"d":0.00031},{"n":3.0,"m":0.624,"d":0.00032},{"n":3.0,"m":0.64,"d":0.00032},{"n":3.0,"m":0.6607,"d":0.00025},{"n":3.0,"m":0.68,"d":0.00022},{"n":3.0,"m":0.7113,"d":0.00021},{"n":3.0,"m":0.7268,"d":0.00015},{"n":3.0,"m":0.7463,"d":0.00006},{"n":3.0,"m":0.7774,"d":0},{"n":3.0,"m":0.797,"d":-0.0001},{"n":3.0,"m":0.824,"d":-0.00019},{"n":3.0,"m":0.8475,"d":-0.00027},{"n":3.0,"m":0.8708,"d":-0.00039},{"n":3.0,"m":0.8942,"d":-0.00052},{"n":3.0,"m":0.9175,"d":-0.00062},{"n":3.0,"m":0.933,"d":-0.0007},{"n":3.0,"m":0.9486,"d":-0.00085},{"n":3.0,"m":0.9564,"d":-0.00097},
      {"n":3.1,"m":0.342,"d":0.0019},{"n":3.1,"m":0.344,"d":0.0009},{"n":3.1,"m":0.346,"d":0.0017},{"n":3.1,"m":0.348,"d":0.0008},{"n":3.1,"m":0.35,"d":0.00125},{"n":3.1,"m":0.353,"d":0.00088},{"n":3.1,"m":0.356,"d":0.001},{"n":3.1,"m":0.358,"d":0.00085},{"n":3.1,"m":0.362,"d":0.00098},{"n":3.1,"m":0.368,"d":0.001},{"n":3.1,"m":0.374,"d":0.0008},{"n":3.1,"m":0.38,"d":0.00078},{"n":3.1,"m":0.385,"d":0.00065},{"n":3.1,"m":0.391,"d":0.00066},{"n":3.1,"m":0.403,"d":0.00054},{"n":3.1,"m":0.417,"d":0.00037},{"n":3.1,"m":0.431,"d":0.00016},{"n":3.1,"m":0.45,"d":0.0001},{"n":3.1,"m":0.4716,"d":0.00005},{"n":3.1,"m":0.483,"d":0.00007},{"n":3.1,"m":0.511,"d":0.00025},{"n":3.1,"m":0.542,"d":0.00026},{"n":3.1,"m":0.5734,"d":0.00042},{"n":3.1,"m":0.597,"d":0.00037},{"n":3.1,"m":0.62,"d":0.00036},{"n":3.1,"m":0.64,"d":0.00035},{"n":3.1,"m":0.66,"d":0.00032},{"n":3.1,"m":0.68,"d":0.00024},{"n":3.1,"m":0.711,"d":0.00015},{"n":3.1,"m":0.74,"d":0.00005},{"n":3.1,"m":0.777,"d":-0.00007},{"n":3.1,"m":0.8,"d":-0.00012},{"n":3.1,"m":0.824,"d":-0.0002},{"n":3.1,"m":0.855,"d":-0.0003},{"n":3.1,"m":0.886,"d":-0.00045},{"n":3.1,"m":0.894,"d":-0.0005},{"n":3.1,"m":0.92,"d":-0.00064},{"n":3.1,"m":0.941,"d":-0.00076},{"n":3.1,"m":0.956,"d":-0.00095},
      {"n":3.2,"m":0.341,"d":0.0021},{"n":3.2,"m":0.343,"d":0.0011},{"n":3.2,"m":0.345,"d":0.002},{"n":3.2,"m":0.347,"d":0.0012},{"n":3.2,"m":0.35,"d":0.0018},{"n":3.2,"m":0.353,"d":0.0013},{"n":3.2,"m":0.357,"d":0.0016},{"n":3.2,"m":0.362,"d":0.0011},{"n":3.2,"m":0.367,"d":0.00128},{"n":3.2,"m":0.372,"d":0.001},{"n":3.2,"m":0.378,"d":0.00108},{"n":3.2,"m":0.385,"d":0.0009},{"n":3.2,"m":0.393,"d":0.00085},{"n":3.2,"m":0.405,"d":0.00078},{"n":3.2,"m":0.417,"d":0.00073},{"n":3.2,"m":0.425,"d":0.0006},{"n":3.2,"m":0.444,"d":0.00048},{"n":3.2,"m":0.464,"d":0.00051},{"n":3.2,"m":0.4775,"d":0.00041},{"n":3.2,"m":0.503,"d":0.00048},{"n":3.2,"m":0.53,"d":0.00048},{"n":3.2,"m":0.55,"d":0.00044},{"n":3.2,"m":0.581,"d":0.00048},{"n":3.2,"m":0.6125,"d":0.00037},{"n":3.2,"m":0.636,"d":0.00036},{"n":3.2,"m":0.66,"d":0.00032},{"n":3.2,"m":0.68,"d":0.00023},{"n":3.2,"m":0.711,"d":0.00014},{"n":3.2,"m":0.74,"d":0.00004},{"n":3.2,"m":0.777,"d":-0.00008},{"n":3.2,"m":0.8,"d":-0.00013},{"n":3.2,"m":0.824,"d":-0.00021},{"n":3.2,"m":0.855,"d":-0.0003},{"n":3.2,"m":0.886,"d":-0.00046},{"n":3.2,"m":0.894,"d":-0.0005},{"n":3.2,"m":0.92,"d":-0.00062},{"n":3.2,"m":0.941,"d":-0.00074},{"n":3.2,"m":0.956,"d":-0.00092},
      {"n":3.3,"m":0.34,"d":0.0021},{"n":3.3,"m":0.342,"d":0.0013},{"n":3.3,"m":0.344,"d":0.0021},{"n":3.3,"m":0.347,"d":0.0014},{"n":3.3,"m":0.35,"d":0.0021},{"n":3.3,"m":0.354,"d":0.0015},{"n":3.3,"m":0.358,"d":0.0019},{"n":3.3,"m":0.363,"d":0.0014},{"n":3.3,"m":0.368,"d":0.0017},{"n":3.3,"m":0.374,"d":0.0014},{"n":3.3,"m":0.38,"d":0.0016},{"n":3.3,"m":0.384,"d":0.00159},{"n":3.3,"m":0.393,"d":0.00137},{"n":3.3,"m":0.401,"d":0.00125},{"n":3.3,"m":0.407,"d":0.0009},{"n":3.3,"m":0.413,"d":0.001},{"n":3.3,"m":0.4286,"d":0.00077},{"n":3.3,"m":0.448,"d":0.00073},{"n":3.3,"m":0.46,"d":0.00071},{"n":3.3,"m":0.483,"d":0.00068},{"n":3.3,"m":0.495,"d":0.00054},{"n":3.3,"m":0.511,"d":0.00062},{"n":3.3,"m":0.526,"d":0.00062},{"n":3.3,"m":0.55,"d":0.00048},{"n":3.3,"m":0.581,"d":0.00046},{"n":3.3,"m":0.6125,"d":0.00041},{"n":3.3,"m":0.636,"d":0.00036},{"n":3.3,"m":0.66,"d":0.00031},{"n":3.3,"m":0.68,"d":0.00023},{"n":3.3,"m":0.711,"d":0.00013},{"n":3.3,"m":0.74,"d":0.00003},{"n":3.3,"m":0.777,"d":-0.00009},{"n":3.3,"m":0.8,"d":-0.00014},{"n":3.3,"m":0.824,"d":-0.00022},{"n":3.3,"m":0.855,"d":-0.00031},{"n":3.3,"m":0.886,"d":-0.00046},{"n":3.3,"m":0.894,"d":-0.0005},{"n":3.3,"m":0.92,"d":-0.0006},{"n":3.3,"m":0.941,"d":-0.00072},{"n":3.3,"m":0.956,"d":-0.00089},
      {"n":3.4,"m":0.339,"d":0.0021},{"n":3.4,"m":0.341,"d":0.0014},{"n":3.4,"m":0.343,"d":0.0021},{"n":3.4,"m":0.346,"d":0.0015},{"n":3.4,"m":0.349,"d":0.0021},{"n":3.4,"m":0.353,"d":0.0016},{"n":3.4,"m":0.357,"d":0.0021},{"n":3.4,"m":0.362,"d":0.0015},{"n":3.4,"m":0.367,"d":0.0019},{"n":3.4,"m":0.372,"d":0.0015},{"n":3.4,"m":0.378,"d":0.00175},{"n":3.4,"m":0.385,"d":0.00145},{"n":3.4,"m":0.393,"d":0.00135},{"n":3.4,"m":0.413,"d":0.0011},{"n":3.4,"m":0.421,"d":0.00104},{"n":3.4,"m":0.434,"d":0.00087},{"n":3.4,"m":0.452,"d":0.00093},{"n":3.4,"m":0.464,"d":0.00079},{"n":3.4,"m":0.487,"d":0.00091},{"n":3.4,"m":0.5,"d":0.00072},{"n":3.4,"m":0.5186,"d":0.00066},{"n":3.4,"m":0.542,"d":0.00068},{"n":3.4,"m":0.5734,"d":0.00054},{"n":3.4,"m":0.597,"d":0.00048},{"n":3.4,"m":0.62,"d":0.0004},{"n":3.4,"m":0.636,"d":0.00037},{"n":3.4,"m":0.66,"d":0.00031},{"n":3.4,"m":0.68,"d":0.00022},{"n":3.4,"m":0.711,"d":0.00012},{"n":3.4,"m":0.74,"d":0.00002},{"n":3.4,"m":0.777,"d":-0.0001},{"n":3.4,"m":0.8,"d":-0.00015},{"n":3.4,"m":0.824,"d":-0.00023},{"n":3.4,"m":0.855,"d":-0.00032},{"n":3.4,"m":0.886,"d":-0.00047},{"n":3.4,"m":0.894,"d":-0.0005},{"n":3.4,"m":0.92,"d":-0.00059},{"n":3.4,"m":0.941,"d":-0.0007},{"n":3.4,"m":0.956,"d":-0.00086},
      {"n":3.5,"m":0.3405,"d":0.0021},{"n":3.5,"m":0.3425,"d":0.0007},{"n":3.5,"m":0.3445,"d":0.0021},{"n":3.5,"m":0.3465,"d":-0.0002},{"n":3.5,"m":0.3485,"d":0.0021},{"n":3.5,"m":0.351,"d":0.0012},{"n":3.5,"m":0.354,"d":0.0021},{"n":3.5,"m":0.357,"d":0.0013},{"n":3.5,"m":0.36,"d":0.002},{"n":3.5,"m":0.364,"d":0.0014},{"n":3.5,"m":0.368,"d":0.0018},{"n":3.5,"m":0.372,"d":0.0013},{"n":3.5,"m":0.376,"d":0.0016},{"n":3.5,"m":0.3816,"d":0.00158},{"n":3.5,"m":0.388,"d":0.0014},{"n":3.5,"m":0.393,"d":0.00135},{"n":3.5,"m":0.401,"d":0.00125},{"n":3.5,"m":0.413,"d":0.00114},{"n":3.5,"m":0.4325,"d":0.00114},{"n":3.5,"m":0.448,"d":0.00097},{"n":3.5,"m":0.464,"d":0.00095},{"n":3.5,"m":0.4755,"d":0.00084},{"n":3.5,"m":0.487,"d":0.0009},{"n":3.5,"m":0.499,"d":0.00075},{"n":3.5,"m":0.5186,"d":0.00068},{"n":3.5,"m":0.534,"d":0.00068},{"n":3.5,"m":0.55,"d":0.0006},{"n":3.5,"m":0.5734,"d":0.00052},{"n":3.5,"m":0.597,"d":0.00052},{"n":3.5,"m":0.62,"d":0.00044},{"n":3.5,"m":0.636,"d":0.00037},{"n":3.5,"m":0.66,"d":0.0003},{"n":3.5,"m":0.68,"d":0.00021},{"n":3.5,"m":0.711,"d":0.00011},{"n":3.5,"m":0.74,"d":0},{"n":3.5,"m":0.777,"d":-0.00011},{"n":3.5,"m":0.8,"d":-0.00016},{"n":3.5,"m":0.824,"d":-0.00024},{"n":3.5,"m":0.855,"d":-0.00033},{"n":3.5,"m":0.886,"d":-0.00048},{"n":3.5,"m":0.894,"d":-0.0005},{"n":3.5,"m":0.92,"d":-0.00058},{"n":3.5,"m":0.941,"d":-0.00068},{"n":3.5,"m":0.956,"d":-0.00083}
    ],
    "blackBot": [
      {"m":0.649,"d":-0.00024},{"m":0.6743,"d":0.00046},{"m":0.7016,"d":0.000575},{"m":0.7288,"d":0.000525},{"m":0.756,"d":0.000517},{"m":0.7813,"d":0.000421},{"m":0.8086,"d":0.000193},{"m":0.832,"d":0.000029},{"m":0.8553,"d":-0.000087},{"m":0.8786,"d":-0.0003},{"m":0.898,"d":-0.00056},{"m":0.9233,"d":-0.000985},{"m":0.926,"d":-0.00105}
    ],
    "zero": [{"d": 0}]
  },
  "vconcat": [
    {
      "width": 598,
      "height": 24,
      "view": {"stroke": null},
      "layer": [
        {
          "data": {"name": "bins"},
          "mark": {"type": "rect"},
          "encoding": {
            "x": {"field": "lo", "type": "quantitative", "scale": {"domain": [-0.0227, 3.6473], "nice": false, "zero": false},
              "axis": {"orient": "top", "values": [0.1, 0.5, 1.0, 1.5, 2.0, 2.5, 3.0, 3.5], "format": ".1f", "tickSize": 5, "labelPadding": 7, "labelBaseline": "alphabetic", "labelFlush": false, "title": "n", "titleY": -58, "titleBaseline": "alphabetic"}},
            "x2": {"field": "n"},
            "color": {"field": "n", "type": "ordinal", "legend": null,
              "scale": {"domain": [0.2,0.3,0.4,0.5,0.6,0.7,0.8,0.9,1.0,1.1,1.2,1.3,1.4,1.5,1.6,1.7,1.8,1.9,2.0,2.1,2.2,2.3,2.4,2.5,2.6,2.7,2.8,2.9,3.0,3.1,3.2,3.3,3.4,3.5],
                "range": ["#000080","#0000a3","#0000c6","#0000e9","#0000ff","#001bff","#003aff","#0059ff","#0078ff","#0097ff","#00b6ff","#00d4ff","#0bf3ec","#24ffd3","#3dffba","#56ffa1","#6fff88","#88ff6f","#a1ff56","#baff3d","#d3ff24","#ecff0b","#ffe600","#ffc900","#ffad00","#ff9000","#ff7300","#ff5700","#ff3a00","#ff1e00","#e90000","#c60000","#a30000","#800000"]}}
          }
        },
        {
          "data": {"name": "frame"},
          "mark": {"type": "rect", "filled": false, "stroke": "#222222", "strokeWidth": 1.4},
          "encoding": {
            "x": {"field": "lo", "type": "quantitative"},
            "x2": {"field": "hi"}
          }
        }
      ]
    },
    {
      "width": 598,
      "height": 571,
      "layer": [
        {
          "data": {"name": "top"},
          "mark": {"type": "line", "strokeWidth": 2.3, "clip": true},
          "encoding": {
            "x": {"field": "m", "type": "quantitative", "scale": {"domain": [0.3, 1.0], "nice": false, "zero": false},
              "axis": {"values": [0.4, 0.6, 0.8], "labels": false, "tickSize": -6, "title": null}},
            "y": {"field": "e", "type": "quantitative", "scale": {"domain": [0.0352, 0.055], "nice": false, "zero": false},
              "axis": {"values": [0.04, 0.045, 0.05, 0.055], "format": ".3f", "tickSize": -6, "labelPadding": 14, "title": "e", "titleX": -104, "titleY": 288, "titleBaseline": "middle", "titleAlign": "center"}},
            "color": {"field": "n", "type": "ordinal", "legend": null,
              "scale": {"domain": [0.2,0.3,0.4,0.5,0.6,0.7,0.8,0.9,1.0,1.1,1.2,1.3,1.4,1.5,1.6,1.7,1.8,1.9,2.0,2.1,2.2,2.3,2.4,2.5,2.6,2.7,2.8,2.9,3.0,3.1,3.2,3.3,3.4,3.5],
                "range": ["#000080","#0000a3","#0000c6","#0000e9","#0000ff","#001bff","#003aff","#0059ff","#0078ff","#0097ff","#00b6ff","#00d4ff","#0bf3ec","#24ffd3","#3dffba","#56ffa1","#6fff88","#88ff6f","#a1ff56","#baff3d","#d3ff24","#ecff0b","#ffe600","#ffc900","#ffad00","#ff9000","#ff7300","#ff5700","#ff3a00","#ff1e00","#e90000","#c60000","#a30000","#800000"]}}
          }
        },
        {
          "data": {"name": "top"},
          "mark": {"type": "circle", "size": 42, "opacity": 1, "clip": true},
          "encoding": {
            "x": {"field": "m", "type": "quantitative"},
            "y": {"field": "e", "type": "quantitative"},
            "color": {"field": "n", "type": "ordinal", "legend": null}
          }
        },
        {
          "data": {"name": "dots"},
          "mark": {"type": "circle", "size": 42, "opacity": 1, "clip": true},
          "encoding": {
            "x": {"field": "m", "type": "quantitative"},
            "y": {"field": "e", "type": "quantitative"},
            "color": {"field": "n", "type": "ordinal", "legend": null}
          }
        },
        {
          "data": {"name": "blackTop"},
          "mark": {"type": "line", "color": "black", "strokeWidth": 3, "clip": true},
          "encoding": {
            "x": {"field": "m", "type": "quantitative"},
            "y": {"field": "e", "type": "quantitative"}
          }
        },
        {
          "data": {"name": "top"},
          "transform": [{"filter": "datum.n == 3"}],
          "mark": {"type": "line", "color": "black", "strokeWidth": 3, "strokeDash": [9, 6], "clip": true},
          "encoding": {
            "x": {"field": "m", "type": "quantitative"},
            "y": {"field": "e", "type": "quantitative"}
          }
        }
      ]
    },
    {
      "width": 598,
      "height": 571,
      "layer": [
        {
          "data": {"name": "bot"},
          "mark": {"type": "line", "strokeWidth": 2.3, "clip": true},
          "encoding": {
            "x": {"field": "m", "type": "quantitative", "scale": {"domain": [0.3, 1.0], "nice": false, "zero": false},
              "axis": {"values": [0.4, 0.6, 0.8, 1.0], "format": ".1f", "tickSize": -6, "labelPadding": 11, "labelFlush": false, "title": "m⋆/M⊙", "titleY": 71, "titleBaseline": "alphabetic"}},
            "y": {"field": "d", "type": "quantitative", "scale": {"domain": [-0.001, 0.002], "nice": false, "zero": false},
              "axis": {"values": [-0.001, 0, 0.001, 0.002], "format": ".3f", "tickSize": -6, "labelPadding": 14, "title": "Δe", "titleX": -97, "titleY": 282, "titleBaseline": "middle", "titleAlign": "center"}},
            "color": {"field": "n", "type": "ordinal", "legend": null,
              "scale": {"domain": [0.2,0.3,0.4,0.5,0.6,0.7,0.8,0.9,1.0,1.1,1.2,1.3,1.4,1.5,1.6,1.7,1.8,1.9,2.0,2.1,2.2,2.3,2.4,2.5,2.6,2.7,2.8,2.9,3.0,3.1,3.2,3.3,3.4,3.5],
                "range": ["#000080","#0000a3","#0000c6","#0000e9","#0000ff","#001bff","#003aff","#0059ff","#0078ff","#0097ff","#00b6ff","#00d4ff","#0bf3ec","#24ffd3","#3dffba","#56ffa1","#6fff88","#88ff6f","#a1ff56","#baff3d","#d3ff24","#ecff0b","#ffe600","#ffc900","#ffad00","#ff9000","#ff7300","#ff5700","#ff3a00","#ff1e00","#e90000","#c60000","#a30000","#800000"]}}
          }
        },
        {
          "data": {"name": "zero"},
          "mark": {"type": "rule", "color": "black", "strokeWidth": 2},
          "encoding": {
            "y": {"field": "d", "type": "quantitative"}
          }
        },
        {
          "data": {"name": "blackBot"},
          "mark": {"type": "line", "color": "black", "strokeWidth": 3, "clip": true},
          "encoding": {
            "x": {"field": "m", "type": "quantitative"},
            "y": {"field": "d", "type": "quantitative"}
          }
        },
        {
          "data": {"name": "bot"},
          "transform": [{"filter": "datum.n == 3"}],
          "mark": {"type": "line", "color": "black", "strokeWidth": 3, "strokeDash": [9, 6], "clip": true},
          "encoding": {
            "x": {"field": "m", "type": "quantitative"},
            "y": {"field": "d", "type": "quantitative"}
          }
        }
      ]
    }
  ]
}
